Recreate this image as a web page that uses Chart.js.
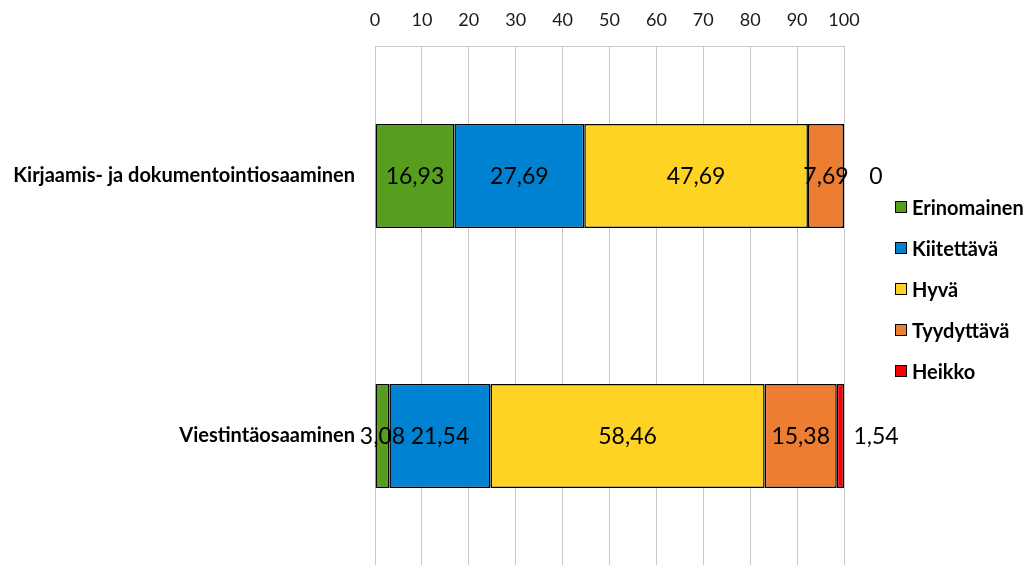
<!DOCTYPE html>
<html>
<head>
<meta charset="utf-8">
<script src="https://cdn.jsdelivr.net/npm/chart.js@4"></script>
<style>
  html, body { margin: 0; padding: 0; background: #fff; overflow: hidden; }
  #wrap { position: relative; width: 1031px; height: 565px; overflow: hidden; }
  #wrap canvas { position: absolute; left: 0; top: 0; }
  #legend { position: absolute; left: 895px; top: 195px; font-family: Lato, "Open Sans", sans-serif; font-weight: bold; font-size: 20px; color: #000; }
  .item { position: absolute; left: 0; height: 24px; display: flex; align-items: center; white-space: nowrap; }
  .box { width: 10px; height: 10px; border: 1.5px solid #000; margin-right: 5px; box-sizing: content-box; }
</style>
</head>
<body>
<div id="wrap">
  <canvas id="c" width="1031" height="566"></canvas>
  <div id="legend"></div>
</div>
<script>
// Osaamisalueet ja arvosanajakauma (%)
const categories = ['Kirjaamis- ja dokumentointiosaaminen', 'Viestintäosaaminen'];
const seriesNames = ['Erinomainen', 'Kiitettävä', 'Hyvä', 'Tyydyttävä', 'Heikko'];
const erinomainen = [16.93, 3.08];
const kiitettava = [27.69, 21.54];
const hyva = [47.69, 58.46];
const tyydyttava = [7.69, 15.38];
const heikko = [0, 1.54];
const xTicks = [0, 10, 20, 30, 40, 50, 60, 70, 80, 90, 100];

const colors = ['#589e1e', '#0082d2', '#ffd324', '#ed7d31', '#ff0000'];
const seriesValues = [erinomainen, kiitettava, hyva, tyydyttava, heikko];

const FONT = 'Lato, "Open Sans", sans-serif';

const fmt = v => v === 0 ? '0' : v.toFixed(2).replace('.', ',');

// Arvot palkkien sisään; Heikko-sarjan arvo palkin oikealle puolelle
const valueLabels = {
  id: 'valueLabels',
  afterDatasetsDraw(chart) {
    const ctx = chart.ctx;
    ctx.save();
    ctx.font = '23px ' + FONT;
    ctx.fillStyle = '#000';
    ctx.textAlign = 'center';
    ctx.textBaseline = 'middle';
    chart.data.datasets.forEach((ds, di) => {
      const meta = chart.getDatasetMeta(di);
      meta.data.forEach((el, i) => {
        const v = ds.data[i];
        const x = di === seriesValues.length - 1 ? el.x + 32 : (el.x + el.base) / 2;
        ctx.fillText(fmt(v), x, el.y + 1);
      });
    });
    ctx.restore();
  }
};

const datasets = seriesNames.map((name, i) => ({
  label: name,
  data: seriesValues[i],
  backgroundColor: colors[i],
  borderColor: '#000',
  borderWidth: 1.5,
  borderSkipped: false,
  categoryPercentage: 0.8,
  barPercentage: 0.5
}));

new Chart(document.getElementById('c'), {
  type: 'bar',
  data: { labels: categories, datasets },
  options: {
    indexAxis: 'y',
    responsive: false,
    animation: false,
    layout: { padding: { left: 0, right: 187, top: 0, bottom: 0 } },
    plugins: { legend: { display: false }, tooltip: { enabled: false } },
    scales: {
      x: {
        position: 'top',
        stacked: true,
        min: 0,
        max: 100,
        afterBuildTicks(scale) { scale.ticks = xTicks.map(v => ({ value: v })); },
        afterFit(scale) { scale.height = 46; },
        grid: { color: '#c8c8c8', lineWidth: 1, drawTicks: false },
        border: { color: '#c8c8c8', width: 1 },
        ticks: { color: '#1a1a1a', font: { family: FONT, size: 18 }, padding: 15 }
      },
      y: {
        stacked: true,
        afterFit(scale) {
          scale.width = 375;
          scale.paddingTop = 0;
          scale.paddingBottom = 0;
        },
        grid: { display: false },
        border: { display: true, color: '#c8c8c8', width: 1 },
        ticks: { color: '#000', font: { family: FONT, size: 20, weight: 'bold' }, padding: 12 }
      }
    }
  },
  plugins: [valueLabels]
});

// Selite
const legend = document.getElementById('legend');
seriesNames.forEach((name, i) => {
  const item = document.createElement('div');
  item.className = 'item';
  item.style.top = (i * 41) + 'px';
  const box = document.createElement('span');
  box.className = 'box';
  box.style.background = colors[i];
  const txt = document.createElement('span');
  txt.textContent = name;
  item.appendChild(box);
  item.appendChild(txt);
  legend.appendChild(item);
});
</script>
</body>
</html>
